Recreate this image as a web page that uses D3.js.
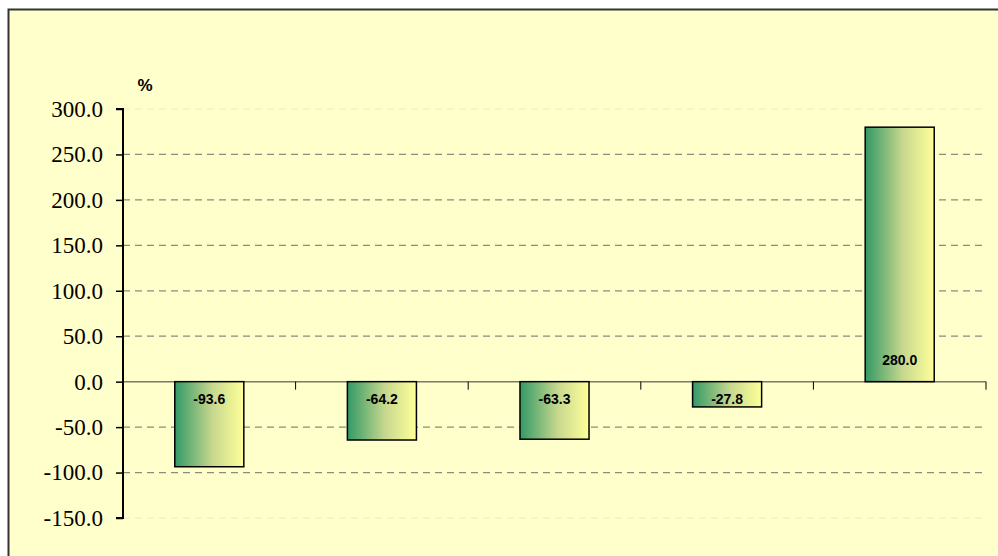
<!DOCTYPE html>
<html><head><meta charset="utf-8">
<script src="https://cdn.jsdelivr.net/npm/d3@7"></script>
<style>html,body{margin:0;padding:0;background:#fff;}svg{display:block;}</style>
</head><body>
<script>
const categories = ["1", "2", "3", "4", "5"];
const values = [-93.6, -64.2, -63.3, -27.8, 280.0];
const yTicks = [-150, -100, -50, 0, 50, 100, 150, 200, 250, 300];

const W = 998, H = 556;
const svg = d3.select("body").append("svg").attr("width", W).attr("height", H);

const defs = svg.append("defs");
const grad = defs.append("linearGradient").attr("id", "barGrad")
  .attr("x1", "0%").attr("x2", "100%").attr("y1", "0%").attr("y2", "0%");
grad.append("stop").attr("offset", "0%").attr("stop-color", "#339966");
grad.append("stop").attr("offset", "55%").attr("stop-color", "#c8d88e");
grad.append("stop").attr("offset", "100%").attr("stop-color", "#ffff99");

// chart frame
svg.append("rect").attr("x", 8.5).attr("y", 9.5).attr("width", 1000).attr("height", 560)
  .attr("fill", "#ffffcc").attr("stroke", "#333").attr("stroke-width", 2);

const left = 123, right = 986;
const y = d3.scaleLinear().domain([-150, 300]).range([518, 109]);
const x = d3.scaleBand().domain(categories).range([left, right]).paddingInner(0.6).paddingOuter(0.3);

// gridlines
const grid = svg.append("g");
grid.selectAll("line").data(yTicks.filter(t => t !== 0)).join("line")
  .attr("x1", left).attr("x2", right)
  .attr("y1", d => y(d)).attr("y2", d => y(d))
  .attr("stroke", d => (d === 300 || d === -150) ? "#ebebc8" : "#8c8c7c")
  .attr("stroke-width", 1.2)
  .attr("stroke-dasharray", "7,5");

// zero line
svg.append("line").attr("x1", left).attr("x2", right).attr("y1", y(0)).attr("y2", y(0))
  .attr("stroke", "#7a7a6a").attr("stroke-width", 1.5);

// x ticks (category boundaries)
const xb = d3.range(categories.length + 1).map(i => left + i * (right - left) / categories.length);
svg.append("g").selectAll("line").data(xb.slice(1)).join("line")
  .attr("x1", d => d).attr("x2", d => d)
  .attr("y1", y(0)).attr("y2", y(0) + 8)
  .attr("stroke", "#000").attr("stroke-width", 1);

// bars
svg.append("g").selectAll("rect").data(values).join("rect")
  .attr("x", (d, i) => x(categories[i]))
  .attr("width", x.bandwidth())
  .attr("y", d => y(Math.max(0, d)))
  .attr("height", d => Math.abs(y(d) - y(0)))
  .attr("fill", "url(#barGrad)")
  .attr("stroke", "#000").attr("stroke-width", 1.5);

// labels (inside base)
svg.append("g").selectAll("text").data(values).join("text")
  .attr("x", (d, i) => x(categories[i]) + x.bandwidth() / 2)
  .attr("y", d => d < 0 ? y(0) + 22 : y(0) - 17)
  .attr("text-anchor", "middle")
  .attr("font-family", "Liberation Sans, Arial, sans-serif")
  .attr("font-weight", "bold").attr("font-size", 14)
  .text(d => d.toFixed(1));

// y axis
const yAxis = d3.axisLeft(y).tickValues(yTicks).tickSize(7).tickFormat(d => d.toFixed(1));
const ga = svg.append("g").attr("transform", `translate(${left},0)`).call(yAxis);
ga.select(".domain").attr("stroke", "#000").attr("stroke-width", 2).attr("d", `M-7,${y(300)}H0V${y(-150)}H-7`);
ga.selectAll(".tick line").attr("stroke", "#000").attr("stroke-width", 1.5);
ga.selectAll(".tick text").attr("font-family", "Liberation Serif, Times New Roman, serif")
  .attr("font-size", 23).attr("fill", "#000").attr("x", -20).attr("dy", "0.32em");

svg.append("text").attr("x", 145).attr("y", 91)
  .attr("text-anchor", "middle")
  .attr("font-family", "Liberation Sans, Arial, sans-serif")
  .attr("font-weight", "bold").attr("font-size", 17).text("%");
</script>
</body></html>
